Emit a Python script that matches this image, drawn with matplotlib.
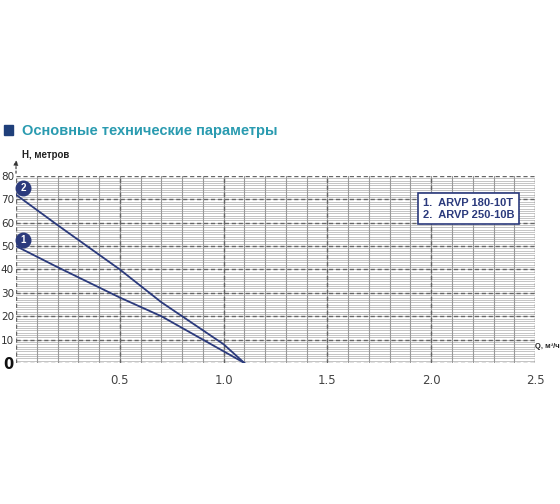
import matplotlib.pyplot as plt
import numpy as np

# flow Q (m3/h) vs head H (m)
q1 = [0.0, 0.2, 0.5, 0.7, 1.0, 1.1]
h1 = [50, 41, 28, 20, 5, 0]
q2 = [0.0, 0.2, 0.5, 0.7, 1.0, 1.1]
h2 = [72, 59, 40, 26, 8, 0]

x_ticks = [0.5, 1.0, 1.5, 2.0, 2.5]
y_ticks = [10, 20, 30, 40, 50, 60, 70, 80]
models = ["1.  ARVP 180-10T", "2.  ARVP 250-10B"]

navy = "#2b3a7c"
teal = "#2a9bb0"

fig = plt.figure(figsize=(5.6, 5.04), dpi=100)
ax = fig.add_axes([0.0286, 0.2798, 0.9268, 0.371])

ax.set_xlim(0, 2.5)
ax.set_ylim(0, 80)

# dense minor grid
for y in np.arange(1, 80, 1):
    ax.axhline(y, color="#c4c4c4", lw=0.7, zorder=0)
for x in np.arange(0.1, 2.5, 0.1):
    ax.axvline(x, color="#9a9a9a", lw=0.8, zorder=0.5)
# dashed major grid
for y in y_ticks:
    ax.axhline(y, color="#666666", lw=1.0, ls=(0, (3, 2)), zorder=1)
for x in x_ticks:
    ax.axvline(x, color="#666666", lw=1.0, ls=(0, (3, 2)), zorder=1)

for s in ax.spines.values():
    s.set_visible(False)
ax.axhline(0, color="#666666", lw=1.0, ls=(0, (3, 2)), zorder=1)
ax.axvline(0, color="#666666", lw=1.0, ls=(0, (3, 2)), zorder=1)

ax.plot(q1, h1, color=navy, lw=1.3, zorder=3)
ax.plot(q2, h2, color=navy, lw=1.3, zorder=3)

# circled numbers
for y, lab in [(52.5, "1"), (75, "2")]:
    ax.scatter([0.035], [y], s=110, color=navy, zorder=4, clip_on=False)
    ax.text(0.035, y, lab, color="white", fontsize=7, fontweight="bold",
            ha="center", va="center", zorder=5, family="Liberation Sans")

ax.set_xticks(x_ticks)
ax.set_yticks([0] + y_ticks)
ax.set_xticklabels(["0.5", "1.0", "1.5", "2.0", "2.5"])
ax.set_yticklabels(["0"] + [str(v) for v in y_ticks])
ax.tick_params(length=0, labelsize=7.5, labelcolor="#333333", pad=1.5)
ax.tick_params(axis="x", labelsize=8.5, labelcolor="#444444", pad=8)
ax.get_yticklabels()[0].set_fontsize(10.5)
ax.get_yticklabels()[0].set_fontweight("bold")
ax.get_yticklabels()[0].set_color("#111111")

# legend box
ax.text(1.96, 66, "\n".join(models), fontsize=8, fontweight="bold",
        color=navy, ha="left", va="center", linespacing=1.3,
        family="Liberation Sans", zorder=6,
        bbox=dict(boxstyle="square,pad=0.4", fc="white", ec=navy, lw=1.2))

# axis labels
ax.annotate("", xy=(0, 88), xytext=(0, 80),
            arrowprops=dict(arrowstyle="-|>", color="#333333", lw=0.8,
                            ls=(0, (2, 2)), mutation_scale=7),
            annotation_clip=False)
ax.text(0.03, 89, "H, метров", fontsize=7, fontweight="bold", color="#222222",
        ha="left", va="center", family="Liberation Sans")
ax.text(2.502, 7, "Q, м³/ч", fontsize=5.5, fontweight="bold", color="#222222",
        ha="left", va="center", family="Liberation Sans", clip_on=False)

# heading
fig.patches.append(plt.Rectangle((0.008, 0.733), 0.016, 0.019,
                                 transform=fig.transFigure, color="#1f3f7a"))
fig.text(0.04, 0.741, "Основные технические параметры", fontsize=10.5,
         fontweight="bold", color=teal, ha="left", va="center",
         family="Liberation Sans")

fig.savefig("out.png", dpi=100)
